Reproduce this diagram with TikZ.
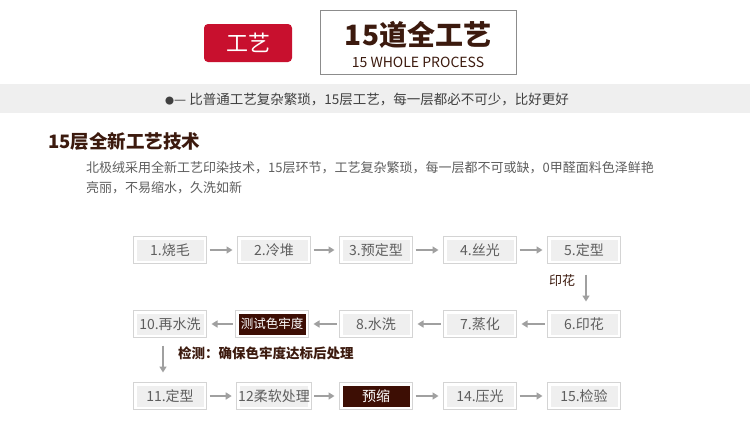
\documentclass[tikz,border=0pt]{standalone}
\usepackage{fontspec}
\setmainfont{Noto Sans CJK SC}
\usetikzlibrary{arrows.meta}
\definecolor{headred}{HTML}{C8102E}
\definecolor{brown}{HTML}{3C1A0E}
\definecolor{darkfill}{HTML}{3D0E04}
\definecolor{stepfill}{HTML}{EFEFEF}
\definecolor{steptext}{HTML}{5E5E5E}
\definecolor{framegray}{HTML}{D4D4D4}
\definecolor{arrowgray}{HTML}{A0A0A0}
\definecolor{bandgray}{HTML}{EFEFEF}
\newcommand{\fs}[1]{\fontsize{#1}{#1}\selectfont}
\begin{document}
\begin{tikzpicture}[x=1pt,y=-1pt,
	stepbox/.style={draw=white, line width=3pt, fill=stepfill, minimum width=70pt, minimum height=24pt, inner sep=0pt, text=steptext, font=\fs{14}},
	darkbox/.style={stepbox, fill=darkfill, text=white, font=\fs{12.5}},
	frame/.style={draw=framegray, line width=0.8pt},
	flow/.style={-{Triangle[length=6pt,width=7pt]}, draw=arrowgray, line width=1.6pt, shorten <=3pt, shorten >=5pt}]
	\useasboundingbox (0,0) rectangle (750,432);
	\node[fill=headred, rounded corners=4pt, minimum width=88pt, minimum height=38pt, text=white, font=\fs{22}] (tag) at (248,43) {工艺};
	\node[draw=black!45, line width=0.8pt, minimum width=196pt, minimum height=64pt] (head) at (418,42) {};
	\node[text=brown, font=\bfseries\fs{28}] (headcn) at (418,35) {15道全工艺};
	\node[text=brown, font=\fs{14}] (headen) at (418,62) {15 WHOLE PROCESS};
	\fill[bandgray] (0,84) rectangle (750,113);
	\node[text=black!75, font=\fs{13.5}] (band) at (367,99) {{\fs{9}●}— 比普通工艺复杂繁琐，15层工艺，每一层都必不可少，比好更好};
	\node[text=brown, font=\bfseries\fs{18.5}, anchor=west, inner sep=0pt] (title) at (48,141) {15层全新工艺技术};
	\node[text=steptext, font=\fs{13}, anchor=west, inner sep=0pt] (para1) at (86,168) {北极绒采用全新工艺印染技术，15层环节，工艺复杂繁琐，每一层都不可或缺，0甲醛面料色泽鲜艳};
	\node[text=steptext, font=\fs{13}, anchor=west, inner sep=0pt] (para2) at (86,188) {亮丽，不易缩水，久洗如新};
	\foreach \i/\x/\s in {1/170/1.烧毛, 2/274/2.冷堆, 3/376/3.预定型, 4/480/4.丝光, 5/584/5.定型} {
		\node[stepbox] (s\i) at (\x,250) {\s};
	}
	\foreach \i/\x/\s in {6/584/6.印花, 7/480/7.蒸化, 8/376/8.水洗, 10/170/10.再水洗} {
		\node[stepbox] (s\i) at (\x,324) {\s};
	}
	\node[darkbox] (s9) at (272,324) {测试色牢度};
	\foreach \i/\x/\s in {11/170/11.定型, 12/274/12柔软处理, 14/480/14.压光, 15/584/15.检验} {
		\node[stepbox] (s\i) at (\x,396) {\s};
	}
	\node[darkbox, font=\fs{14}] (s13) at (376,396) {预缩};
	\foreach \i in {1,...,15} {
		\draw[frame] (s\i.north west) rectangle (s\i.south east);
	}
	\foreach \a/\b in {1/2, 2/3, 3/4, 4/5, 6/7, 7/8, 8/9, 9/10, 11/12, 12/13, 13/14, 14/15} {
		\draw[flow] (s\a) -- (s\b);
	}
	\draw[flow, shorten <=11pt, shorten >=9pt] ([xshift=2pt]s5.south) -- ([xshift=2pt]s6.north);
	\node[text=brown, font=\fs{13}] (print) at (562,281) {印花};
	\draw[flow, shorten <=8pt, shorten >=10pt] ([xshift=-7pt]s10.south) -- ([xshift=-7pt]s11.north);
	\node[text=brown, font=\bfseries\fs{13.5}, anchor=west, inner sep=0pt] (check) at (178,353) {检测：确保色牢度达标后处理};
\end{tikzpicture}
\end{document}
